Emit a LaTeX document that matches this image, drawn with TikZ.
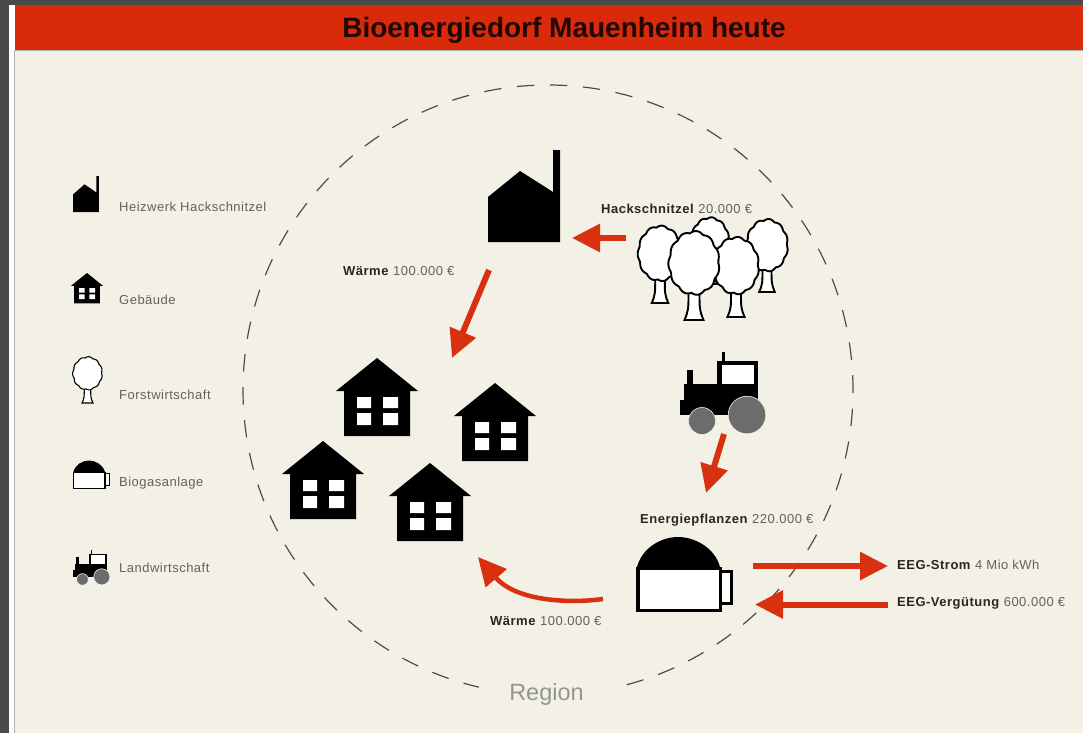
\documentclass[tikz,border=0pt]{standalone}
\usepackage{fontspec}
\setmainfont{Liberation Sans}
\usetikzlibrary{arrows.meta}

\definecolor{pagegrey}{HTML}{4A4A4A}
\definecolor{bandred}{HTML}{D92A0B}
\definecolor{arrowred}{HTML}{D9300F}
\definecolor{paper}{HTML}{F3F1E6}
\definecolor{wheelgrey}{HTML}{6C6C6C}

\newcommand{\keyword}[1]{\textcolor{black!85}{\textbf{#1}}}

\tikzset{
    flow/.style={draw=arrowred,line width=6pt,-{Triangle[length=28pt,width=27pt]}},
    biglabel/.style={anchor=west,inner sep=0pt,text=black!62,font=\fontsize{13}{15}\selectfont\addfontfeatures{LetterSpace=3.8}},
    keylabel/.style={biglabel},
    pics/heatplant/.style={code={
        \fill (0,0) -- (0,-45) -- (32,-71) -- (65,-50) -- (65,-92) -- (72,-92) -- (72,0) -- cycle;
    }},
    pics/village/.style={code={
        \fill (0,0) -- (41,33) -- (33,33) -- (33,78) -- (-33,78) -- (-33,33) -- (-41,33) -- cycle;
        \fill[white] (-20,39) rectangle (-6,50) (6,39) rectangle (21,50)
            (-20,55) rectangle (-6,67) (6,55) rectangle (21,67);
    }},
    pics/woodtree/.style={code={
        \draw[fill=white] (-5.5,-30) .. controls (-5.5,-10) .. (-9.5,0) -- (9.5,0) .. controls (5.5,-10) .. (5.5,-30) -- cycle;
        \draw[fill=white] plot[smooth cycle,domain=0:356,samples=90,variable=\t]
            ({24*(1+.07*abs(sin(5.5*\t+10)))*cos(\t)},{-57+30*(1+.07*abs(sin(5.5*\t+10)))*sin(\t)});
    }},
    pics/farmtractor/.style={code={
        \fill (42,-82) rectangle (45,-70);
        \fill (7,-64) rectangle (13,-45);
        \fill (37,-73) rectangle (78,-45);
        \fill[white] (42,-69) rectangle (74,-48);
        \fill (4,-50) rectangle (78,-19);
        \fill (0,-34) rectangle (8,-19);
        \draw[draw=paper,fill=wheelgrey,line width=.6pt] (22,-13) circle[radius=13.5];
        \draw[draw=paper,fill=wheelgrey,line width=.6pt] (67,-19) circle[radius=18.8];
    }},
    pics/biogasplant/.style={code={
        \fill (1,-45) .. controls (6,-64) and (25,-75) .. (42,-75) .. controls (59,-75) and (79,-64) .. (84,-45) -- cycle;
        \fill (80,-42) rectangle (97,-7);
        \fill[white] (86,-39) rectangle (94,-10);
        \fill (0,-45) rectangle (86,0);
        \fill[white] (3.5,-42) rectangle (82.5,-3.5);
    }},
}

\begin{document}
\begin{tikzpicture}[x=1pt,y=-1pt]

    \useasboundingbox (0,0) rectangle (1083,733);
    \fill[pagegrey] (0,0) rectangle (1083,733);
    \fill[white!92!paper] (9,5) rectangle (1083,733);
    \fill[paper] (14,50) rectangle (1083,733);
    \fill[bandred] (15,5) rectangle (1083,50);
    \draw[black!30,line width=.7pt] (14.5,50) -- (14.5,733);
    \draw[black!30,line width=.7pt] (14.5,50.3) -- (1083,50.3);

    \node[inner sep=0pt,text=black!85!bandred,font=\fontsize{28}{32}\selectfont\bfseries] (title) at (564,30.5) {Bioenergiedorf Mauenheim heute};

    \draw[black!70,line width=1.2pt,dash pattern=on 17.5pt off 15.54pt,dash phase=14.44pt] (548,390) circle[radius=305];
    \node[fill=paper,inner xsep=30pt,inner ysep=3pt,text=black!42,font=\fontsize{23.5}{26}\selectfont] (region) at (546.5,694) {Region};

    \pic (keyplant) at (73,212) [xscale=.36,yscale=.39] {heatplant};
    \pic (keyhouse) at (87,273) [scale=.39] {village};
    \pic[line width=1.1pt] (keytree) at (87.5,403) [xscale=.58,yscale=.52] {woodtree};
    \pic (keygas) at (73,489) [scale=.38] {biogasplant};
    \pic (keytractor) at (73,585) [scale=.43] {farmtractor};

    \node[keylabel] (lblplant) at (119,207) {Heizwerk Hackschnitzel};
    \node[keylabel] (lblhouse) at (119,300) {Gebäude};
    \node[keylabel] (lbltree) at (119,395) {Forstwirtschaft};
    \node[keylabel] (lblgas) at (119,483) {Biogasanlage};
    \node[keylabel] (lbltractor) at (119,568) {Landwirtschaft};

    \pic (plant) at (488,242) {heatplant};
    \pic (house1) at (377,358) {village};
    \pic (house2) at (495,383) {village};
    \pic (house3) at (323,441) {village};
    \pic (house4) at (430,463) {village};

    \pic[line width=1.9pt] (tree2) at (710,284) [scale=.75] {woodtree};
    \pic[line width=1.9pt] (tree5) at (767,292) [scale=.82] {woodtree};
    \pic[line width=1.9pt] (tree1) at (660,303) [scale=.87] {woodtree};
    \pic[line width=1.9pt] (tree4) at (736,317) [scale=.9] {woodtree};
    \pic[line width=1.9pt] (tree3) at (694,320) {woodtree};

    \pic (tractor) at (680,434) {farmtractor};
    \pic (gas) at (636,612) {biogasplant};

    \node[biglabel] (chips) at (601,209) {\keyword{Hackschnitzel} 20.000 €};
    \node[biglabel] (heatup) at (343,271) {\keyword{Wärme} 100.000 €};
    \node[biglabel] (crops) at (640,520) {\keyword{Energiepflanzen} 220.000 €};
    \node[biglabel] (power) at (897,565) {\keyword{EEG-Strom} 4 Mio kWh};
    \node[biglabel] (money) at (897,603) {\keyword{EEG-Vergütung} 600.000 €};
    \node[biglabel] (heatdown) at (490,621) {\keyword{Wärme} 100.000 €};

    \coordinate (woodout) at (626,238);
    \coordinate (plantin) at (572,238);
    \coordinate (plantout) at (489,270);
    \coordinate (housein) at (452,358);
    \coordinate (tractorout) at (724,434);
    \coordinate (gasin) at (706,493);
    \coordinate (gasout) at (753,566);
    \coordinate (gridin) at (888,566);
    \coordinate (gridout) at (888,604.5);
    \coordinate (gasback) at (755,604.5);
    \coordinate (gasheat) at (603,599);
    \coordinate (househeat) at (478,557);

    \draw[flow] (woodout) -- (plantin);
    \draw[flow] (plantout) -- (housein);
    \draw[flow] (tractorout) -- (gasin);
    \draw[flow] (gasout) -- (gridin);
    \draw[flow] (gridout) -- (gasback);
    \draw[flow,line width=4.5pt] (gasheat) .. controls (565,604) and (515,600) .. (househeat);

\end{tikzpicture}
\end{document}
